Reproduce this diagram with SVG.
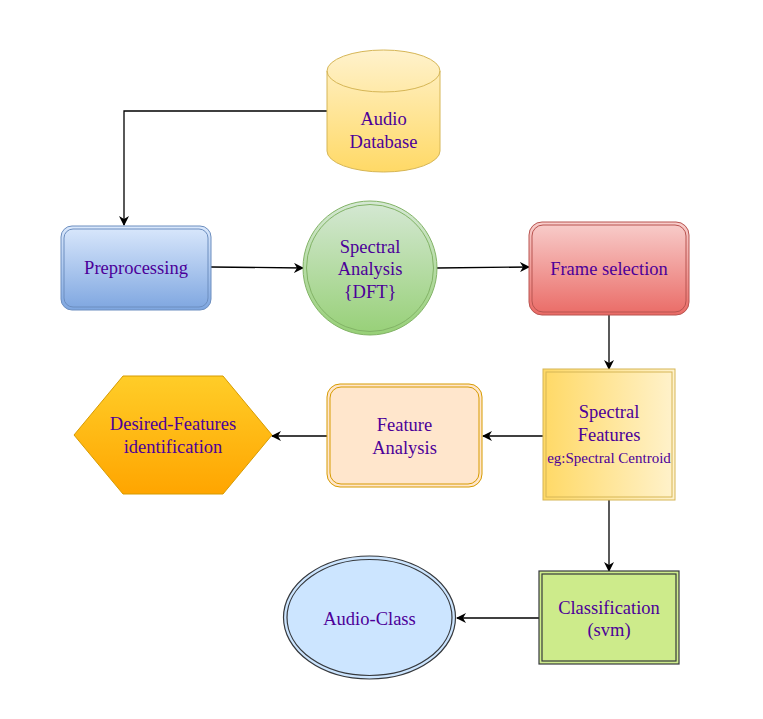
<svg xmlns="http://www.w3.org/2000/svg" width="763" height="719" viewBox="0 0 763 719">
<defs>
<linearGradient id="gDb" x1="0" y1="0" x2="0" y2="1"><stop offset="0" stop-color="#fff2cc"/><stop offset="1" stop-color="#ffd966"/></linearGradient>
<linearGradient id="gBlue" x1="0" y1="0" x2="0" y2="1"><stop offset="0" stop-color="#dae8fc"/><stop offset="1" stop-color="#7ea6e0"/></linearGradient>
<linearGradient id="gGreen" x1="0" y1="0" x2="0" y2="1"><stop offset="0" stop-color="#d5e8d4"/><stop offset="1" stop-color="#97d077"/></linearGradient>
<linearGradient id="gRed" x1="0" y1="0" x2="0" y2="1"><stop offset="0" stop-color="#f8cecc"/><stop offset="1" stop-color="#ea6b66"/></linearGradient>
<linearGradient id="gYel" x1="0" y1="0" x2="1" y2="0"><stop offset="0" stop-color="#ffd966"/><stop offset="1" stop-color="#fff2cc"/></linearGradient>
<linearGradient id="gOr" x1="0" y1="0" x2="0" y2="1"><stop offset="0" stop-color="#ffcd28"/><stop offset="1" stop-color="#ffa500"/></linearGradient>
<marker id="arr" viewBox="0 0 10 10" refX="9" refY="5" markerWidth="10" markerHeight="10" markerUnits="userSpaceOnUse" orient="auto">
<path d="M0,0 L10,5 L0,10 L3,5 Z" fill="#000"/>
</marker>
</defs>
<style>
text{font-family:"Liberation Serif","Times New Roman",serif;font-size:18.5px;fill:#4c0099;text-anchor:middle}
.small{font-size:15px}
.edge{fill:none;stroke:#000;stroke-width:1.3;marker-end:url(#arr)}
</style>
<rect width="763" height="719" fill="#fff"/>
<g id="connectors">
<path class="edge" d="M327,111 L124,111 L124,225"/>
<path class="edge" d="M211,267 L303,268"/>
<path class="edge" d="M437,268 L529,267"/>
<path class="edge" d="M609,315 L609,369"/>
<path class="edge" d="M543,436 L483,436"/>
<path class="edge" d="M327,436 L272,436"/>
<path class="edge" d="M609,500 L609,571"/>
<path class="edge" d="M539,618 L457,618"/>
</g>
<g id="audio-database">
<path d="M327,71 L327,151 A56.5,21 0 0 0 440,151 L440,71 A56.5,21 0 0 0 327,71 Z" fill="url(#gDb)" stroke="#d6b656" stroke-width="1"/>
<path d="M327,71 A56.5,21 0 0 0 440,71" fill="none" stroke="#d6b656" stroke-width="1"/>
<text x="383.5" y="125">Audio</text>
<text x="383.5" y="148">Database</text>
</g>
<g id="preprocessing">
<rect x="61" y="226" width="150" height="84" rx="11" fill="url(#gBlue)" stroke="#6c8ebf" stroke-width="1"/>
<rect x="64" y="229" width="144" height="78" rx="9" fill="none" stroke="#6c8ebf" stroke-width="1"/>
<text x="136" y="274">Preprocessing</text>
</g>
<g id="spectral-analysis">
<circle cx="370" cy="268" r="67" fill="url(#gGreen)" stroke="#82b366" stroke-width="1"/>
<circle cx="370" cy="268" r="63.5" fill="none" stroke="#82b366" stroke-width="1"/>
<text x="370" y="253">Spectral</text>
<text x="370" y="275">Analysis</text>
<text x="370" y="298">{DFT}</text>
</g>
<g id="frame-selection">
<rect x="529" y="222" width="160" height="93" rx="13" fill="url(#gRed)" stroke="#b85450" stroke-width="1"/>
<rect x="532" y="225" width="154" height="87" rx="11" fill="none" stroke="#b85450" stroke-width="1"/>
<text x="609" y="275">Frame selection</text>
</g>
<g id="spectral-features">
<rect x="543" y="369" width="132" height="131" fill="url(#gYel)" stroke="#d6b656" stroke-width="1"/>
<rect x="546" y="372" width="126" height="125" fill="none" stroke="#d6b656" stroke-width="1"/>
<text x="609" y="418">Spectral</text>
<text x="609" y="441">Features</text>
<text class="small" x="609" y="463">eg:Spectral Centroid</text>
</g>
<g id="feature-analysis">
<rect x="327" y="384" width="155" height="103" rx="13" fill="#ffe6cc" stroke="#d79b00" stroke-width="1"/>
<rect x="330" y="387" width="149" height="97" rx="11" fill="none" stroke="#d79b00" stroke-width="1"/>
<text x="404.5" y="431">Feature</text>
<text x="404.5" y="454">Analysis</text>
</g>
<g id="desired-features">
<polygon points="74,435 123,376 223,376 272,435 223,494 123,494" fill="url(#gOr)" stroke="#d79b00" stroke-width="1"/>
<text x="173" y="430">Desired-Features</text>
<text x="173" y="453">identification</text>
</g>
<g id="classification">
<rect x="539" y="571" width="140" height="93" fill="#cdeb8b" stroke="#36393d" stroke-width="1.2"/>
<rect x="542" y="574" width="134" height="87" fill="none" stroke="#36393d" stroke-width="1.2"/>
<text x="609" y="614">Classification</text>
<text x="609" y="636">(svm)</text>
</g>
<g id="audio-class">
<ellipse cx="369.5" cy="617.5" rx="86" ry="61.5" fill="#cce5ff" stroke="#36393d" stroke-width="1.2"/>
<ellipse cx="369.5" cy="617.5" rx="82.5" ry="58" fill="none" stroke="#36393d" stroke-width="1.2"/>
<text x="369.5" y="625">Audio-Class</text>
</g>
</svg>
